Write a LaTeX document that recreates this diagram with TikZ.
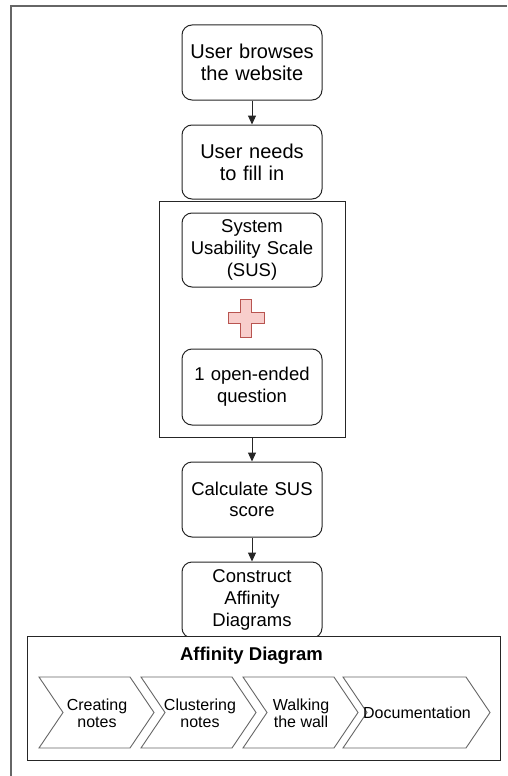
\documentclass[tikz,border=0pt]{standalone}
\usepackage{fontspec}
\setmainfont{Liberation Sans}
\usetikzlibrary{arrows.meta}
\begin{document}
\begin{tikzpicture}[x=1pt,y=-1pt,
  flowbox/.style={draw=black!85, line width=1pt, rounded corners=10pt, fill=white,
    minimum width=140pt, align=center, inner sep=0pt, text width=134pt},
  bigtext/.style={font=\fontsize{20}{22}\selectfont},
  midtext/.style={font=\fontsize{18.5}{21.7}\selectfont},
  flow/.style={-{Triangle[length=9pt,width=8pt]}, line width=1pt, draw=black!85},
  frame/.style={draw=black!85, line width=1pt},
  chev/.style={draw=black!60, line width=0.9pt, fill=white, line join=miter},
  chevtext/.style={font=\fontsize{16}{17}\selectfont, align=center, inner sep=0pt},
  plusmark/.style={draw={rgb,255:red,184;green,84;blue,80}, fill={rgb,255:red,248;green,206;blue,204}, line width=0.9pt, line join=miter},
]
\useasboundingbox (0,0) rectangle (507,776);
% outer page frame
\draw[black!60, line width=1.5pt] (11,776) -- (11,6) -- (507,6);

% survey group
\node[frame, minimum width=186pt, minimum height=236pt] (grp) at (252,319) {};

% main flow
\node[flowbox, bigtext, minimum height=75pt] (browse) at (252,62.5) {User browses\\the website};
\node[flowbox, bigtext, minimum height=74pt] (fill) at (252,162) {User needs\\to fill in};
\node[flowbox, midtext, minimum height=74pt] (sus) at (252,250) {System\\Usability Scale\\(SUS)};
\node[flowbox, midtext, minimum height=76pt] (open) at (252,387) {1 open-ended\\question};
\node[flowbox, midtext, minimum height=75pt] (calc) at (252,499.5) {Calculate SUS\\score};
\node[flowbox, midtext, minimum height=76pt] (construct) at (252,600) {Construct\\Affinity\\Diagrams};

% plus sign between the two questionnaire parts
\draw[plusmark] (240.5,299) -- (251.5,299) -- (251.5,312.5) -- (264,312.5) -- (264,323.5)
  -- (251.5,323.5) -- (251.5,337) -- (240.5,337) -- (240.5,323.5) -- (228,323.5)
  -- (228,312.5) -- (240.5,312.5) -- cycle;

\draw[flow] (browse) -- (fill);
\draw[flow] (grp.south) -- (calc.north);
\draw[flow] (calc) -- (construct);

% affinity diagram panel
\node[frame, fill=white, minimum width=473pt, minimum height=124pt] (aff) at (263.5,698) {};
\node[font=\bfseries\fontsize{18.5}{20}\selectfont] (afftitle) at (251.5,656) {Affinity Diagram};

% process steps
\draw[chev] (39,677) -- (130,677) -- (154,712.5) -- (130,748) -- (39,748) -- (63,712.5) -- cycle;
\draw[chev] (141,677) -- (232,677) -- (256,712.5) -- (232,748) -- (141,748) -- (165,712.5) -- cycle;
\draw[chev] (243,677) -- (334,677) -- (358,712.5) -- (334,748) -- (243,748) -- (267,712.5) -- cycle;
\draw[chev] (343,677) -- (466,677) -- (490,712.5) -- (466,748) -- (343,748) -- (367,712.5) -- cycle;
\node[chevtext] (s1) at (97,713.5) {Creating\\notes};
\node[chevtext] (s2) at (200,713.5) {Clustering\\notes};
\node[chevtext] (s3) at (301,713.5) {Walking\\the wall};
\node[chevtext] (s4) at (417,712.5) {Documentation};
\end{tikzpicture}
\end{document}
